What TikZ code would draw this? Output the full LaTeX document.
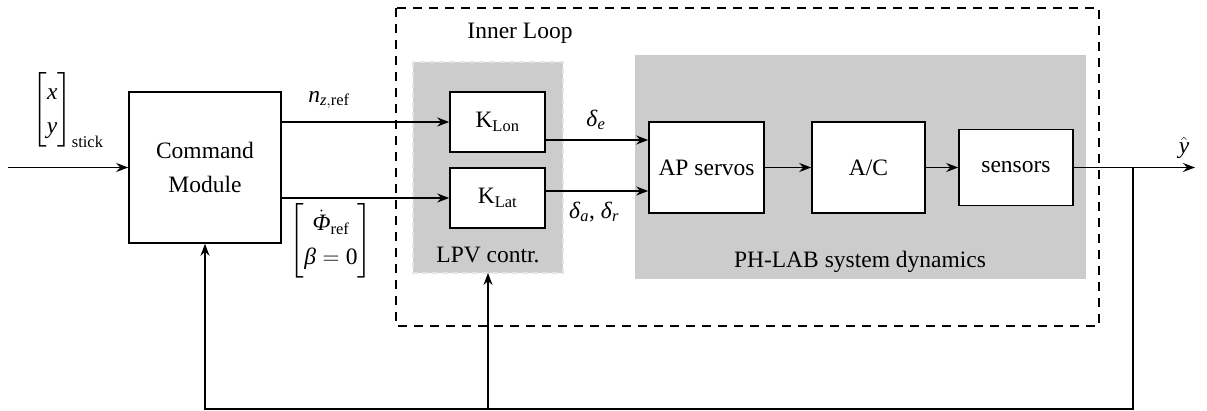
\RequirePackage{fix-cm}
\documentclass[tikz,border=0pt]{standalone}
\usepackage{amsmath}
\usepackage{fontspec}
\setmainfont{Liberation Serif}
\usetikzlibrary{arrows.meta,calc}
\newcommand{\mv}[1]{\text{\textit{#1}}}
\begin{document}
\begin{tikzpicture}[x=1pt,y=-1pt,
  font=\fontsize{23.5}{34}\selectfont,
  blk/.style={draw,fill=white,line width=1.6pt,inner sep=0pt,align=center},
  arr/.style={line width=1.6pt,-{Stealth[length=12pt,width=9pt,inset=4pt]}},
  lbl/.style={inner sep=0pt}]
\useasboundingbox (0,0) rectangle (1207,411);
% background regions
\draw[line width=1.4pt,dash pattern=on 9pt off 7pt] (396,8) rectangle (1099,326);
\node[lbl] (innerlbl) at (520,33) {Inner Loop};
\path[fill=black!20,draw=black!10,line width=1.4pt,dash pattern=on 6pt off 4pt] (413,62) rectangle (563,273);
\coordinate (lpvs) at (488,273);
\node[lbl] (lpvlbl) at (488,255) {LPV contr.};
\path[fill=black!20] (635,55) rectangle (1086,279);
\node[lbl] (phlbl) at (860,262) {PH-LAB system dynamics};
% blocks
\node[blk,minimum width=152pt,minimum height=151pt] (cm) at (205,167.5) {Command\\Module};
\node[blk,minimum width=95pt,minimum height=60pt] (klon) at (497.5,122) {K$_{\text{Lon}}$};
\node[blk,minimum width=95pt,minimum height=60pt] (klat) at (497.5,198) {K$_{\text{Lat}}$};
\node[blk,minimum width=115pt,minimum height=91pt] (ap) at (706.5,167.5) {AP servos};
\node[blk,minimum width=113pt,minimum height=91pt] (ac) at (868.5,167.5) {A/C};
\node[blk,minimum width=114pt,minimum height=76pt] (sens) at (1016,167.5) {sensors};
% coordinates
\coordinate (in) at (8,167.5);
\coordinate (out) at (1195,167.5);
\coordinate (br) at (1133,167.5);
\coordinate (bot) at (0,409);
% connectors
\draw[arr] (in) -- (cm.west);
\draw[arr] (cm.east |- klon.west) -- (klon.west);
\draw[arr] (cm.east |- klat.west) -- (klat.west);
\draw[arr] ([yshift=-18pt]klon.east) -- ([yshift=-18pt]klon.east -| ap.west);
\draw[arr] ([yshift=7pt]klat.east) -- ([yshift=7pt]klat.east -| ap.west);
\draw[arr] (ap.east) -- (ac.west);
\draw[arr] (ac.east) -- (sens.west);
\draw[arr] (sens.east) -- (out);
\draw[arr] (br) |- (cm.south |- bot) -- (cm.south);
\draw[arr] (lpvs |- bot) -- (lpvs);
% labels
\node[lbl] (stick) at (68,110) {$\begin{bmatrix} \mv{x}\\ \mv{y}\end{bmatrix}_{\text{stick}}$};
\node[lbl] (nz) at (329,100) {$\mv{n}_{\mv{z},\text{ref}}$};
\node[lbl] (phi) at (331,241) {$\begin{bmatrix} \dot{\mv{Φ}}_{\text{ref}}\\ \mv{β}=\text{0}\end{bmatrix}$};
\node[lbl] (de) at (596,120) {$\mv{δ}_{\mv{e}}$};
\node[lbl] (dar) at (594,212) {$\mv{δ}_{\mv{a}}$, $\mv{δ}_{\mv{r}}$};
\node[lbl] (yhat) at (1184,148) {$\hat{\mv{y}}$};
\end{tikzpicture}
\end{document}
